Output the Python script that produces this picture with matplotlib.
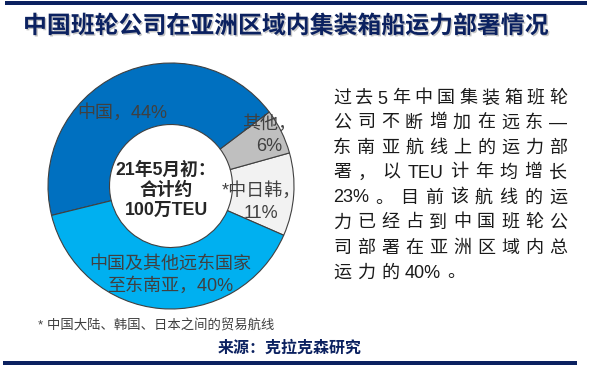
import matplotlib
matplotlib.use('Agg')
import matplotlib.pyplot as plt
from matplotlib.patches import Rectangle
import matplotlib.patheffects as pe

plt.rcParams['font.family'] = ['Liberation Sans', 'Noto Sans CJK SC']

# data
segments = ['*中日韩，\n11%', '其他，\n6%', '中国，44%', '中国及其他远东国家\n至东南亚，40%']
shares = [11, 6, 44, 40]
colors = ['#F2F2F2', '#BFBFBF', '#0070C0', '#00B0F0']
title = '中国班轮公司在亚洲区域内集装箱船运力部署情况'
center_text = '21年5月初：\n合计约\n100万TEU'
paragraph = ['过去5年中国集装箱班轮',
             '公司不断增加在远东—',
             '东南亚航线上的运力部',
             '署，以TEU计年均增长',
             '23%。目前该航线的运',
             '力已经占到中国班轮公',
             '司部署在亚洲区域内总',
             '运力的40%。']
footnote = '* 中国大陆、韩国、日本之间的贸易航线'
source = '来源：克拉克森研究'

navy = '#0B2160'
W, H = 595, 372

fig = plt.figure(figsize=(W / 100, H / 100), dpi=100)


def fx(px):
    return px / W


def fy(py):
    return 1 - py / H


# frame bars
fig.add_artist(Rectangle((fx(5), fy(5)), fx(587) - fx(5), 4 / H,
                         transform=fig.transFigure, color=navy, lw=0))
fig.add_artist(Rectangle((fx(3), fy(365)), fx(577) - fx(3), 4 / H,
                         transform=fig.transFigure, color=navy, lw=0))

fig.text(fx(23), fy(26), title, fontsize=17.2, weight='bold', color=navy,
         va='center', ha='left', family=['Noto Sans CJK SC'],
         path_effects=[pe.withSimplePatchShadow(offset=(1, -1), shadow_rgbFace='#8a8a8a', alpha=0.5)])

# donut
cx, cy, r = 171, 186, 123
ax = fig.add_axes([fx(cx - r), fy(cy + r), 2 * r / W, 2 * r / H])
ax.pie(shares, colors=colors, startangle=-23.6, counterclock=True, radius=1,
       wedgeprops=dict(width=0.5, edgecolor='#404040', linewidth=0.8))
ax.set_xlim(-1.0, 1.0)
ax.set_ylim(-1.0, 1.0)
ax.set_aspect('equal')
ax.axis('off')


def d(px, py):
    return (px - cx) / r, (cy - py) / r


label_pos = [(261, 202), (269, 135), (122, 113), (170, 275)]
for lab, (px, py) in zip(segments, label_pos):
    x, y = d(px, py)
    ax.text(x, y, lab, ha='center', va='center', fontsize=13, color='#404040',
            linespacing=1.35, multialignment='center')

x, y = d(166, 190)
ax.text(x, y, center_text, ha='center', va='center', fontsize=12.8, weight='bold',
        color='#262626', linespacing=1.22)

# justified paragraph on the right
renderer = fig.canvas.get_renderer()
left, right = 333, 567
line_y = [99, 123, 148, 173, 198, 223, 248, 273]
last_gap = 5
for i, line in enumerate(paragraph):
    tokens = []
    for ch in line:
        if ord(ch) < 128 and tokens and ord(tokens[-1][-1]) < 128:
            tokens[-1] += ch
        else:
            tokens.append(ch)
    texts = [fig.text(0, fy(line_y[i]), t, fontsize=13, color='#1a1a1a', va='center', ha='left')
             for t in tokens]
    widths = [t.get_window_extent(renderer).width for t in texts]
    if i < len(paragraph) - 1:
        gap = (right - left - sum(widths)) / (len(tokens) - 1)
        last_gap = gap
    else:
        gap = last_gap
    pos = left
    for t, w in zip(texts, widths):
        t.set_x(fx(pos))
        pos += w + gap

fig.text(fx(38), fy(326), footnote, fontsize=9.6, color='#404040', va='center', ha='left')
fig.text(fx(290), fy(348), source, fontsize=11.5, weight='bold', color=navy,
         va='center', ha='center', family=['Noto Sans CJK SC'])

fig.savefig('out.png', dpi=100)
